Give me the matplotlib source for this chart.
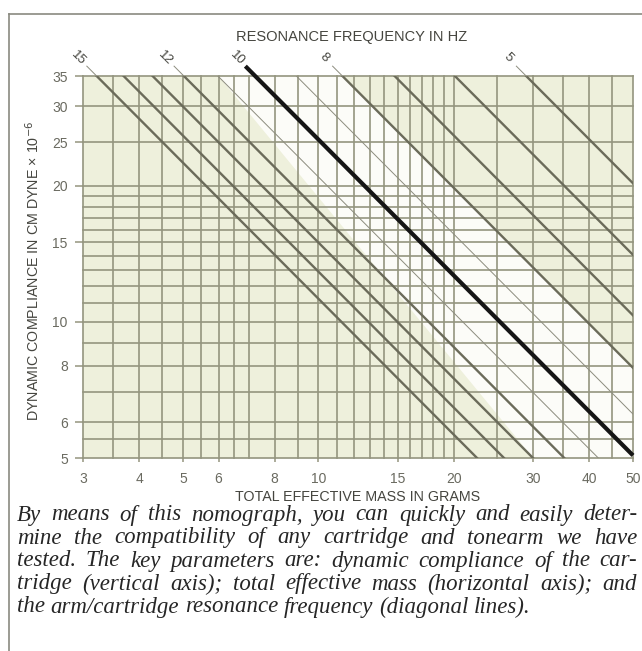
import numpy as np
import matplotlib.pyplot as plt
from matplotlib.ticker import NullLocator
from matplotlib.lines import Line2D

W, H = 642, 651

# nomograph relation: f = 1 / (2*pi*sqrt(M * C * 1e-6)),  M in grams, C in 1e-6 cm/dyne
K = 1e6 / (4 * np.pi ** 2)

freqs = [15, 14, 13, 12, 11, 10, 9, 8, 7, 6, 5]
heavy_freqs = [15, 14, 13, 12, 8, 7, 6, 5]
light_freqs = [11, 9]
bold_freq = 10
labeled_freqs = [15, 12, 10, 8, 5]

mass_grid = [3, 3.5, 4, 4.5, 5, 5.5, 6, 6.5, 7, 8, 9, 10, 11, 12, 13, 14, 15,
             16, 17, 18, 19, 20, 25, 30, 35, 40, 45, 50]
compliance_grid = [5, 5.5, 6, 7, 8, 9, 10, 11, 12, 13, 14, 15, 16, 17, 18, 19,
                   20, 25, 30, 35]
mass_ticks = [3, 4, 5, 6, 8, 10, 15, 20, 30, 40, 50]
compliance_ticks = [5, 6, 8, 10, 15, 20, 25, 30, 35]

# the untinted band: below the 8 Hz line, above an edge from 6 g (top) to 30 g (bottom)
band_freq = 8
band_edge_mass = [6, 30]

caption = [
    "By means of this nomograph, you can quickly and easily deter-",
    "mine the compatibility of any cartridge and tonearm we have",
    "tested. The key parameters are: dynamic compliance of the car-",
    "tridge (vertical axis); total effective mass (horizontal axis); and",
    "the arm/cartridge resonance frequency (diagonal lines).",
]

grid_col = "#94957f"
tint = "#eef0dc"
label_col = "#6a6a60"
title_col = "#45453f"
sans = "Liberation Sans"


def compliance(f, m):
    return K / (f ** 2 * np.asarray(m, dtype=float))


def mass(f, c):
    return K / (f ** 2 * c)


fig = plt.figure(figsize=(W / 100, H / 100), dpi=100)
fig.patch.set_facecolor("white")
ax = fig.add_axes([83 / W, (H - 458) / H, 550 / W, 382 / H])
ax.set_xscale("log")
ax.set_yscale("log")
xmin, xmax = mass_grid[0], mass_grid[-1]
ymin, ymax = compliance_grid[0], compliance_grid[-1]
ax.set_xlim(xmin, xmax)
ax.set_ylim(ymin, ymax)
ax.set_facecolor(tint)
for s in ax.spines.values():
    s.set_visible(False)

# white band
top_m8 = mass(band_freq, ymax)
band = [(band_edge_mass[0], ymax), (top_m8, ymax),
        (xmax, compliance(band_freq, xmax)), (xmax, ymin),
        (band_edge_mass[1], ymin)]
ax.fill([p[0] for p in band], [p[1] for p in band], color="#fcfcf8",
        lw=0, zorder=0.5)

for m in mass_grid:
    ax.axvline(m, color=grid_col, lw=1.2, zorder=1, clip_on=False)
for c in compliance_grid:
    ax.axhline(c, color=grid_col, lw=1.2, zorder=1, clip_on=False)

ms = np.array([2.0, 80.0])
for f in heavy_freqs:
    ax.plot(ms, compliance(f, ms), color="#6b6b5a", lw=1.7, zorder=2)
for f in light_freqs:
    ax.plot(ms, compliance(f, ms), color="#8c8c7e", lw=0.7, zorder=2)

lead_c = 36.8
for f in labeled_freqs:
    if f != bold_freq:
        ax.plot([mass(f, ymax), mass(f, lead_c)], [ymax, lead_c],
                color="#8c8c7e", lw=0.7, clip_on=False, zorder=2)
    ax.text(mass(f, 38.4), 38.4, str(f), rotation=-45, ha="center",
            va="center", fontsize=9.5, family=sans, color=title_col,
            rotation_mode="anchor")

bm = np.array([mass(bold_freq, lead_c), xmax])
ax.plot(bm, compliance(bold_freq, bm), color="#151515", lw=3.0,
        solid_capstyle="butt", clip_on=False, zorder=3)

ax.xaxis.set_minor_locator(NullLocator())
ax.yaxis.set_minor_locator(NullLocator())
ax.set_xticks(mass_ticks)
ax.set_xticklabels([str(v) for v in mass_ticks])
ax.set_yticks(compliance_ticks)
ax.set_yticklabels([str(v) for v in compliance_ticks])
ax.tick_params(axis="y", length=6, width=1.1, color=grid_col, pad=5,
               labelsize=10, labelcolor=label_col)
ax.tick_params(axis="x", length=3, width=1.1, color=grid_col, pad=7,
               labelsize=10, labelcolor=label_col)
for t in ax.get_xticklabels() + ax.get_yticklabels():
    t.set_family(sans)

fig.text(352 / W, 1 - 37 / H, "RESONANCE FREQUENCY IN HZ", ha="center",
         va="center", fontsize=10.5, family=sans, color=title_col)
fig.text(358 / W, 1 - 497 / H, "TOTAL EFFECTIVE MASS IN GRAMS", ha="center",
         va="center", fontsize=10.3, family=sans, color=title_col)
fig.text(33 / W, 1 - 271 / H, "DYNAMIC COMPLIANCE IN CM DYNE \u00d7 10$^{-6}$",
         rotation=90, ha="center", va="center", fontsize=10.3, family=sans,
         color=title_col)

# frame round the figure
fig.add_artist(Line2D([9 / W, 9 / W], [0, 1 - 14 / H], transform=fig.transFigure,
                      color="#8a8a80", lw=1.2))
fig.add_artist(Line2D([9 / W, 1], [1 - 14 / H, 1 - 14 / H],
                      transform=fig.transFigure, color="#8a8a80", lw=1.2))

# justified italic caption
cap_kw = dict(fontsize=16.5, family="Liberation Serif", style="italic",
              color="#262626", va="center")
r = fig.canvas.get_renderer()


def width(s):
    t = fig.text(0, 0, s, **cap_kw)
    w = t.get_window_extent(renderer=r).width
    t.remove()
    return w


space = width("a a") - width("aa")
x0, x1 = 17, 637
y0, dy = 515, 23
for i, line in enumerate(caption):
    words = line.split()
    ws = [width(w) for w in words]
    if i < len(caption) - 1:
        gap = (x1 - x0 - sum(ws)) / (len(words) - 1)
    else:
        gap = space
    x = x0
    for w, wd in zip(words, ws):
        fig.text(x / W, 1 - (y0 + i * dy) / H, w, **cap_kw)
        x += wd + gap

fig.savefig("out.png", dpi=100)
